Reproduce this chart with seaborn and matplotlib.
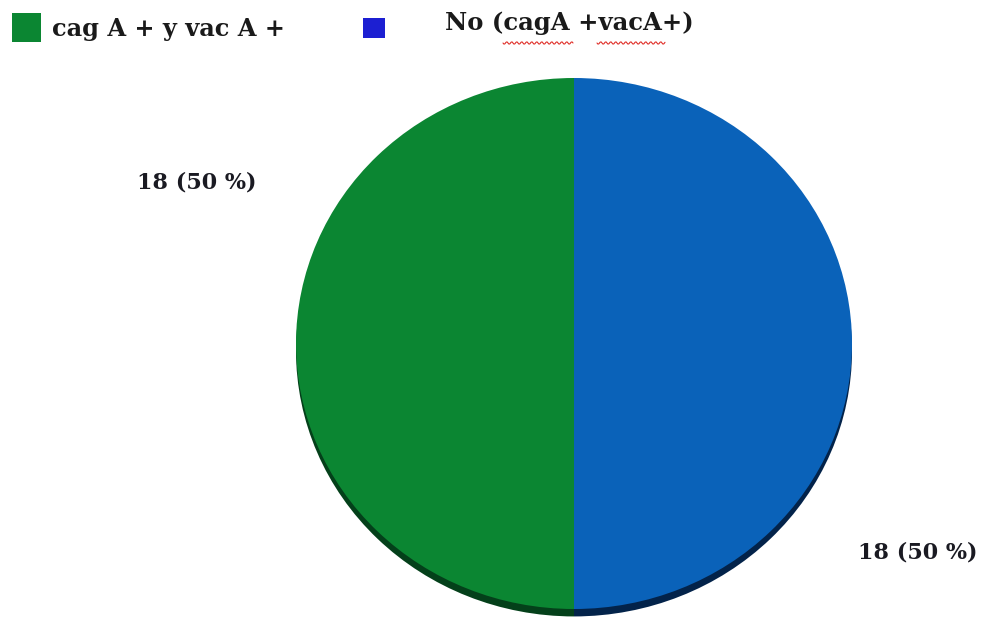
import numpy as np
import matplotlib
matplotlib.use("Agg")
import matplotlib.pyplot as plt
from matplotlib.patches import Rectangle
import seaborn as sns

# Data
categories = ["cag A + y vac A +", "No (cagA +vacA+)"]
counts = [18, 18]
percents = [50, 50]
slice_colors = ["#0b8632", "#0a62b9"]
shadow_colors = ["#04401a", "#03234a"]
legend_colors = ["#0b8632", "#1c1fd2"]

sns.set_theme(style="white")
plt.rcParams["font.family"] = ["DejaVu Serif", "Liberation Serif"]

W, H = 988, 624
fig = plt.figure(figsize=(W / 100, H / 100), dpi=100)
fig.patch.set_facecolor("white")

# Pie drawn as a slightly flattened disc with a dark rim below it
left, right = 296, 852
top, bottom = 78, 609
ax = fig.add_axes([left / W, 1 - bottom / H, (right - left) / W, (bottom - top) / H])

ax.pie(counts, colors=shadow_colors, startangle=90, counterclock=True,
       radius=1.0, center=(0, -0.028), frame=True,
       wedgeprops=dict(linewidth=0))
ax.pie(counts, colors=slice_colors, startangle=90, counterclock=True,
       radius=1.0, center=(0, 0), frame=True,
       wedgeprops=dict(linewidth=0))
ax.set_aspect("auto")
ax.set_xlim(-1, 1)
ax.set_ylim(-1, 1)
ax.axis("off")

# Slice labels
label_text = [f"{c} ({p} %)" for c, p in zip(counts, percents)]
fig.text(197 / W, 1 - 182 / H, label_text[0], ha="center", va="center",
         fontsize=16, fontweight="bold", color="#1a1a22")
fig.text(918 / W, 1 - 553 / H, label_text[1], ha="center", va="center",
         fontsize=16, fontweight="bold", color="#1a1a22")

# Legend
fig.patches.append(Rectangle((12 / W, 1 - 42 / H), 29 / W, 29 / H,
                             transform=fig.transFigure, facecolor=legend_colors[0],
                             edgecolor="none"))
fig.text(52 / W, 1 - 29 / H, categories[0], ha="left", va="center",
         fontsize=17.3, fontweight="bold", color="#1a1a1a")
fig.patches.append(Rectangle((363 / W, 1 - 38 / H), 22 / W, 20 / H,
                             transform=fig.transFigure, facecolor=legend_colors[1],
                             edgecolor="none"))
fig.text(445 / W, 1 - 23 / H, categories[1], ha="left", va="center",
         fontsize=17.5, fontweight="bold", color="#1a1a1a")

# Wavy red underlines beneath the gene names
for x0, x1 in [(503, 573), (597, 665)]:
    xs = np.arange(x0, x1 + 1, 1.0)
    ys = 43 + 1.2 * np.sin((xs - x0) * np.pi / 2.5)
    fig.add_artist(plt.Line2D(xs / W, 1 - ys / H, transform=fig.transFigure,
                              color="#e0302a", linewidth=0.8))

fig.savefig("out.png", dpi=100)
